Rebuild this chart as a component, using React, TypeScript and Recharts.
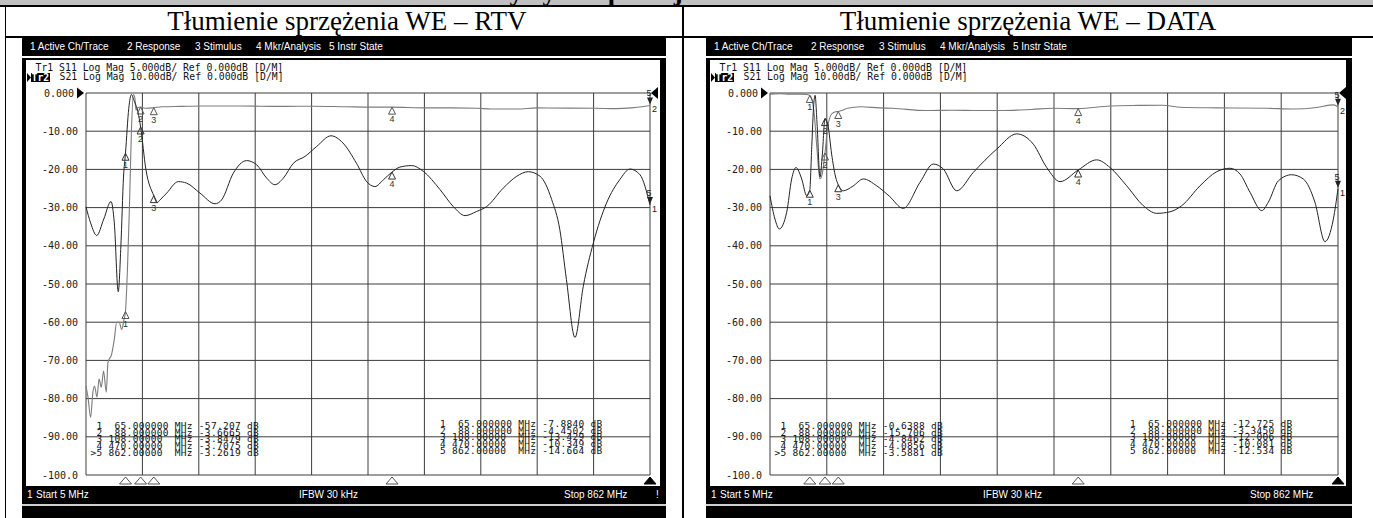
import React from "react";
import { ComposedChart, Line, Scatter, XAxis, YAxis, CartesianGrid, ReferenceLine } from "recharts";

// ---------- axis / label data ----------
const freqTicks = [5, 90.7, 176.4, 262.1, 347.8, 433.5, 519.2, 604.9, 690.6, 776.3, 862];
const dbTicks = [0, -10, -20, -30, -40, -50, -60, -70, -80, -90, -100];
const dbTickLabels = ["0.000", "-10.00", "-20.00", "-30.00", "-40.00", "-50.00", "-60.00", "-70.00", "-80.00", "-90.00", "-100.0"];
const markerFreqs = [65, 88, 108, 470, 862];
const markerFreqLabels = [" 65.000000", " 88.000000", "108.00000 ", "470.00000 ", "862.00000 "];
const menuItems = ["1 Active Ch/Trace", "2 Response", "3 Stimulus", "4 Mkr/Analysis", "5 Instr State"];
const menuOffsets = [8, 105, 173, 234, 307];
const titles = ["Tłumienie sprzężenia WE – RTV", "Tłumienie sprzężenia WE – DATA"];
const headerTitle = "Charakterystyki separacji torów WE – RTV i DATA";
const tr1Header = "Tr1 S11 Log Mag 5.000dB/ Ref 0.000dB [D/M]";
const tr2Header = "S21 Log Mag 10.00dB/ Ref 0.000dB [D/M]";

// ---------- WE – RTV ----------
const rtvS21Freq = [5, 8, 12, 15.5, 18, 21.6, 24.9, 28.2, 31.7, 35.8, 38.4, 43.9, 48, 51.6, 55.5, 59.2, 62.7, 65, 68, 71, 74, 77, 79, 81, 84, 88, 96, 108, 120, 150, 180, 240, 300, 350, 400, 440, 470, 520, 560, 600, 620, 660, 690, 740, 780, 810, 834, 850, 862];
const rtvS21Db = [-76.7, -79.6, -84.9, -78.3, -76.7, -79.6, -74.9, -77, -72.8, -78.3, -70.5, -68.4, -64.5, -60, -60, -61.9, -59.3, -57.2, -46, -30, -10, -0.4, -1, -4.5, -3.8, -3.67, -4, -3.85, -3.6, -3.5, -3.4, -3.4, -3.5, -3.45, -3.6, -3.7, -3.71, -3.9, -3.9, -4.0, -4.2, -4.2, -3.9, -3.95, -4.0, -4.1, -3.9, -3.6, -3.26];
const rtvS11Freq = [5, 12, 21.3, 32, 43, 48, 54, 58, 62, 65, 70, 74, 78, 84, 88, 96, 108, 113, 117.4, 127.6, 145.2, 158, 178.2, 201, 211, 228.8, 249, 264.4, 279.6, 292, 304.8, 320, 337.8, 355.5, 377.3, 395.5, 416, 431.5, 444, 457, 470, 482, 500, 517.5, 543, 563, 581, 598.7, 614, 639, 659.5, 677, 695, 712.6, 725, 735, 748, 760.6, 776, 796, 816, 831.6, 846.8, 862];
const rtvS11Db = [-14.9, -17, -18.65, -16.5, -14.2, -17, -26, -20, -11, -7.884, -2, -0.2, -1, -2.5, -4.45, -10, -13.43, -14.35, -14, -13.1, -11.6, -11.8, -13.1, -14.5, -14, -10.5, -8.85, -9.4, -11.15, -12, -11.15, -9.2, -8.3, -7, -5.6, -6.55, -9.2, -11.6, -12.25, -11.35, -10.35, -9.7, -9.5, -10.25, -12.65, -14.85, -16.05, -15.5, -14.85, -12.45, -10.9, -10.3, -10.9, -13.95, -17.9, -24.4, -32, -25.3, -19.6, -14.4, -11.35, -9.95, -10.7, -14.66];
const rtvS21Markers = ["-57.207", "-3.6665", "-3.8479", "-3.7075", "-3.2619"];
const rtvS11Markers = ["-7.8840", "-4.4502", "-13.429", "-10.349", "-14.664"];

// ---------- WE – DATA ----------
const dataS21Freq = [5, 20, 35, 50, 60, 65, 68, 72, 76, 80.4, 84, 88, 92, 98, 104, 108, 115, 122, 142, 170, 190, 240, 280, 320, 352, 400, 432, 470, 518, 560, 598, 624, 680, 755, 794, 830, 855, 862];
const dataS21Db = [-0.3, -0.2, -0.3, -0.3, -0.4, -0.64, -1.5, -6, -15, -22.5, -21, -15.7, -9, -5.5, -4.9, -4.85, -4.5, -4.0, -3.6, -3.9, -4.0, -4.6, -4.5, -4.6, -4.6, -4.3, -4.0, -4.09, -3.4, -3.25, -3.2, -3.75, -3.9, -4.0, -4.2, -3.8, -3.1, -3.59];
const dataS11Freq = [5, 12.5, 19, 30.2, 37.7, 44.2, 52.8, 60.4, 65, 68, 71, 73, 76, 80.4, 84, 88, 92.5, 98, 104, 108, 115.6, 130, 145.8, 166, 185, 206, 231.3, 251.4, 266.5, 286.7, 311.7, 347, 377.2, 402.3, 422.5, 442.6, 470, 497.9, 518, 543.2, 568.2, 588.5, 608.5, 626.2, 653.8, 679, 699, 714.2, 729.3, 747, 756.8, 772, 792, 809.6, 827.2, 842.3, 855, 862];
const dataS11Db = [-13.45, -16.5, -17.8, -15.6, -11.25, -9.75, -11.25, -13.45, -12.725, -7, -1.5, -0.3, -4, -11, -8, -3.345, -4.25, -8, -11, -12.006, -12.8, -12.2, -11.25, -12.15, -13.5, -15.1, -11.7, -9.3, -9.95, -12.8, -10.4, -7.35, -5.35, -6.7, -9.75, -11.6, -10.081, -8.75, -9.75, -12.15, -14.75, -15.75, -15.55, -14.75, -12.15, -10.3, -9.85, -10.6, -13, -15.4, -14.3, -11.5, -10.7, -11.25, -14.3, -19.45, -16.5, -12.534];
const dataS21Markers = ["-0.6388", "-15.706", "-4.8462", "-4.0856", "-3.5881"];
const dataS11Markers = ["-12.725", "-3.3450", "-12.006", "-10.081", "-12.534"];

// ---------- helpers ----------
type Pt = { f: number; v: number; n?: number };
const zip = (f: number[], v: number[]): Pt[] => f.map((x, i) => ({ f: x, v: v[i] }));
const markerPts = (vals: string[]): Pt[] => markerFreqs.map((f, i) => ({ f, v: parseFloat(vals[i]), n: i + 1 }));
const bottomPts: Pt[] = markerFreqs.map((f, i) => ({ f, v: -100, n: i + 1 }));
const refPts: Pt[] = [{ f: 5, v: 0, n: 0 }, { f: 862, v: 0, n: 1 }];

const MONO = '"DejaVu Sans Mono", monospace';
const SANS = '"Liberation Sans", Arial, sans-serif';
const SERIF = '"Liberation Serif", "Times New Roman", serif';

const abs = (left: number, top: number, width: number, height: number, background: string): React.CSSProperties => ({
  position: "absolute", left, top, width, height, background,
});

const makeYTick = (axisW: number) => (props: any) => {
  const { y, payload } = props;
  const i = dbTicks.indexOf(payload.value);
  const isRef = payload.value === 0;
  return (
    <text x={axisW - (isRef ? 12 : 8)} y={y} dy={3.6} textAnchor="end" fontFamily={MONO} fontSize={10} fill="#1a1a1a">
      {dbTickLabels[i]}
    </text>
  );
};

const emptyTick = () => <g />;

const makeMarker = (color: string, trace: string) => (p: any) => {
  const { cx, cy, payload } = p;
  if (cx == null || cy == null) return <g />;
  const n = payload.n;
  if (n === 5) {
    return (
      <g>
        <text x={cx - 1} y={cy - 9} textAnchor="middle" fontFamily={SANS} fontSize={9} fill="#222">5</text>
        <polygon points={`${cx - 3},${cy - 8} ${cx + 3},${cy - 8} ${cx},${cy - 1}`} fill="#222" />
        <text x={cx + 2} y={cy + 7} fontFamily={SANS} fontSize={9} fill="#222">{trace}</text>
      </g>
    );
  }
  return (
    <g>
      <polygon points={`${cx},${cy} ${cx - 3.5},${cy + 7} ${cx + 3.5},${cy + 7}`} fill="none" stroke={color} strokeWidth={1} />
      <text x={cx} y={cy + 15} textAnchor="middle" fontFamily={SANS} fontSize={9} fill="#333">{n}</text>
    </g>
  );
};

const bottomShape = (p: any) => {
  const { cx, cy, payload } = p;
  if (cx == null) return <g />;
  const active = payload.n === 5;
  return (
    <polygon
      points={`${cx},${cy + 2} ${cx - 6},${cy + 9} ${cx + 6},${cy + 9}`}
      fill={active ? "#000" : "none"}
      stroke={active ? "#000" : "#555"}
      strokeWidth={1}
    />
  );
};

const refShape = (p: any) => {
  const { cx, cy, payload } = p;
  if (cx == null) return <g />;
  if (payload.n === 0) {
    return <polygon points={`${cx - 9},${cy - 5.5} ${cx - 9},${cy + 5.5} ${cx - 2},${cy}`} fill="#000" />;
  }
  return <polygon points={`${cx + 1},${cy} ${cx + 8},${cy - 6} ${cx + 8},${cy + 6}`} fill="#000" />;
};

type PanelProps = {
  left: number;
  right: number;
  plotLeft: number;
  plotRight: number;
  s21: Pt[];
  s11: Pt[];
  s21Marks: string[];
  s11Marks: string[];
  bang: boolean;
  tableOffset: number;
};

function Panel({ left, right, plotLeft, plotRight, s21, s11, s21Marks, s11Marks, bang, tableOffset }: PanelProps) {
  const screenL = left + 4;
  const screenR = right - 6;
  const chartTop = 60;
  const chartH = 426;
  const axisW = plotLeft - screenL;
  const rowsActive = markerFreqLabels.map((fl, i) => `${i === 4 ? ">" : " "}${i + 1} ${fl} MHz ${s21Marks[i].padStart(7)} dB`);
  const rowsOther = markerFreqLabels.map((fl, i) => ` ${i + 1} ${fl} MHz ${s11Marks[i].padStart(7)} dB`);
  const tableStyle: React.CSSProperties = {
    position: "absolute", fontFamily: MONO, fontSize: 9.5, letterSpacing: 0.3, lineHeight: "6.7px",
    whiteSpace: "pre", color: "#111",
  };
  const white: React.CSSProperties = { color: "#fff", fontFamily: SANS, fontSize: 10, lineHeight: "12px", position: "absolute", whiteSpace: "pre" };
  return (
    <>
      {/* menu bar */}
      <div style={abs(left, 38, right - left, 18, "#000")} />
      {menuItems.map((m, i) => (
        <div key={m} style={{ ...white, left: left + menuOffsets[i], top: 41 }}>{m}</div>
      ))}
      {/* frame */}
      <div style={abs(left, 57.5, right - left, 2, "#000")} />
      <div style={abs(left, 57.5, 4, 486 - 57.5, "#000")} />
      <div style={abs(right - 6, 57.5, 6, 486 - 57.5, "#000")} />
      {/* trace headers */}
      <div style={{ position: "absolute", left: left + 13.5, top: 63, fontFamily: MONO, fontSize: 9.8, lineHeight: "10px", whiteSpace: "pre", color: "#111" }}>
        {tr1Header}
      </div>
      <svg style={{ position: "absolute", left: left + 5, top: 72.5 }} width={4} height={9}>
        <polygon points="0,0 0,9 4,4.5" fill="#000" />
      </svg>
      <div style={{ ...abs(left + 9, 72.5, 18.5, 9.5, "#000"), color: "#fff", fontFamily: MONO, fontSize: 9.8, lineHeight: "9.5px", paddingLeft: 0.5, boxSizing: "border-box", fontWeight: "bold" }}>
        Tr2
      </div>
      <div style={{ position: "absolute", left: left + 37.5, top: 72, fontFamily: MONO, fontSize: 9.8, lineHeight: "10px", whiteSpace: "pre", color: "#111" }}>
        {tr2Header}
      </div>
      {/* chart */}
      <div style={{ position: "absolute", left: screenL, top: chartTop }}>
        <ComposedChart
          width={screenR - screenL}
          height={chartH}
          margin={{ top: 93 - chartTop, right: screenR - plotRight, bottom: chartTop + chartH - 476, left: 0 }}
        >
          <XAxis type="number" dataKey="f" domain={[5, 862]} ticks={freqTicks} tick={emptyTick} tickLine={false} axisLine={false} height={1} interval={0} />
          <YAxis
            yAxisId="s21"
            type="number"
            dataKey="v"
            domain={[-100, 0]}
            ticks={dbTicks}
            interval={0}
            width={axisW}
            tick={makeYTick(axisW)}
            tickLine={false}
            axisLine={false}
            tickSize={0}
            tickMargin={8}
          />
          <YAxis yAxisId="s11" type="number" dataKey="v" domain={[-50, 0]} hide />
          <CartesianGrid yAxisId="s21" vertical={false} stroke="#3c3c3c" strokeWidth={1} />
          {freqTicks.map((t) => (
            <ReferenceLine key={t} yAxisId="s21" x={t} stroke="#3c3c3c" strokeWidth={1} />
          ))}
          <Line yAxisId="s21" data={s21} dataKey="v" type="monotone" stroke="#7c7c7c" strokeWidth={1.1} dot={false} isAnimationActive={false} />
          <Line yAxisId="s11" data={s11} dataKey="v" type="monotone" stroke="#242424" strokeWidth={1} dot={false} isAnimationActive={false} />
          <Scatter yAxisId="s21" data={markerPts(s21Marks)} dataKey="v" shape={makeMarker("#555", "2")} isAnimationActive={false} />
          <Scatter yAxisId="s11" data={markerPts(s11Marks)} dataKey="v" shape={makeMarker("#333", "1")} isAnimationActive={false} />
          <Scatter yAxisId="s21" data={bottomPts} dataKey="v" shape={bottomShape} isAnimationActive={false} />
          <Scatter yAxisId="s21" data={refPts} dataKey="v" shape={refShape} isAnimationActive={false} />
        </ComposedChart>
      </div>
      {/* marker tables */}
      <div style={{ ...tableStyle, left: plotLeft + 4.5, top: 423 }}>
        {rowsActive.map((r) => <div key={r}>{r}</div>)}
      </div>
      <div style={{ ...tableStyle, left: plotLeft + tableOffset, top: 421 }}>
        {rowsOther.map((r) => <div key={r}>{r}</div>)}
      </div>
      {/* status bar */}
      <div style={abs(left, 486, right - left, 17.5, "#000")} />
      <div style={{ ...white, left: left + 5, top: 489 }}>1</div>
      <div style={{ ...white, left: left + 14, top: 489 }}>Start 5 MHz</div>
      <div style={{ ...white, left: left + 277, top: 489 }}>IFBW 30 kHz</div>
      <div style={{ ...white, left: right - 102, top: 489 }}>Stop 862 MHz</div>
      {bang && <div style={{ ...white, left: right - 10, top: 489 }}>!</div>}
      <div style={abs(left, 503.5, right - left, 2.5, "#cfcfcf")} />
      <div style={abs(left, 506, right - left, 12, "#000")} />
    </>
  );
}

export default function App() {
  const rtvS21 = zip(rtvS21Freq, rtvS21Db);
  const rtvS11 = zip(rtvS11Freq, rtvS11Db);
  const dataS21 = zip(dataS21Freq, dataS21Db);
  const dataS11 = zip(dataS11Freq, dataS11Db);
  return (
    <div style={{ position: "absolute", left: 0, top: 0, width: 1373, height: 518, background: "#fff", overflow: "hidden" }}>
      {/* grey heading band (clipped) */}
      <div style={{ ...abs(0, 0, 1373, 5, "#c0c0c0"), overflow: "hidden" }}>
        <div style={{ position: "absolute", left: 90, width: 1200, top: -22, textAlign: "center", fontFamily: SERIF, fontWeight: "bold", fontSize: 27, lineHeight: "27px", whiteSpace: "nowrap", color: "#000" }}>
          {headerTitle}
        </div>
      </div>
      <div style={abs(0, 5, 1373, 1.7, "#000")} />
      {/* table borders */}
      <div style={abs(4.5, 5, 1.8, 513, "#000")} />
      <div style={abs(682, 5, 1.8, 513, "#000")} />
      <div style={abs(4.5, 36, 1369, 2, "#000")} />
      {/* titles */}
      <div style={{ position: "absolute", left: 347 - 300, width: 600, top: 6, textAlign: "center", fontFamily: SERIF, fontSize: 27, lineHeight: "30px", color: "#000" }}>
        {titles[0]}
      </div>
      <div style={{ position: "absolute", left: 1028 - 300, width: 600, top: 6, textAlign: "center", fontFamily: SERIF, fontSize: 27, lineHeight: "30px", color: "#000" }}>
        {titles[1]}
      </div>
      <Panel left={22} right={666} plotLeft={86} plotRight={650} s21={rtvS21} s11={rtvS11} s21Marks={rtvS21Markers} s11Marks={rtvS11Markers} bang={true} tableOffset={348} />
      <Panel left={706} right={1352} plotLeft={770} plotRight={1338} s21={dataS21} s11={dataS11} s21Marks={dataS21Markers} s11Marks={dataS11Markers} bang={false} tableOffset={354} />
    </div>
  );
}
